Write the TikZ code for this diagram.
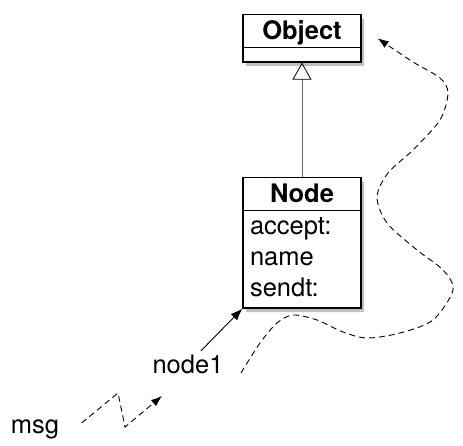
\documentclass[tikz,border=0pt]{standalone}
\usepackage{fontspec}
\setmainfont{TeX Gyre Heros}
\usetikzlibrary{arrows.meta,shapes.multipart,shadows,positioning}
\newcommand{\titlestrut}{\rule[-6pt]{0pt}{29pt}}

\begin{document}
\begin{tikzpicture}[x=1pt,y=-1pt,
  every node/.style={font=\fontsize{25.5}{31}\selectfont},
  umlclass/.style={rectangle split, rectangle split parts=2, draw, line width=1.2pt,
    fill=white, minimum width=118pt, inner xsep=7pt, inner ysep=1.5pt,
    rectangle split part align={center,left},
    rectangle split empty part height=10pt, rectangle split empty part depth=0pt,
    drop shadow={opacity=0.5, shadow xshift=3pt, shadow yshift=-4pt}, anchor=north},
  msgline/.style={dash pattern=on 6pt off 4pt, line width=0.9pt, -{Latex[length=11pt,width=8pt]}}]
\useasboundingbox (0,0) rectangle (463,446);
\node[umlclass] (objcls) at (302,14) {\textbf{\titlestrut Object}\nodepart{two}};
\node[umlclass] (nodecls) at (302,177) {\textbf{\titlestrut Node}
  \nodepart{two}\begin{tabular}{@{}l@{}}accept:\\name\\sendt:\end{tabular}};
\node (node1) at (188,364) {node1};
\node (msg) at (35,429) {msg};
\draw[black!60, line width=0.8pt, -{Triangle[open,length=17pt,width=19pt,black]}] (nodecls.north) -- (objcls.south);
\draw[line width=0.9pt, -{Latex[length=12pt,width=9pt]}] (node1) -- (nodecls.south west);
\draw[msgline] ([xshift=19pt,yshift=6pt]msg.east) -- (118,393) -- (125,427)
  -- ([xshift=-26pt,yshift=-19pt]node1.south);
\draw[msgline] plot[smooth] coordinates {
([xshift=14pt,yshift=-9pt]node1.east) (260,343) (277,323) (293,315)
(317,320) (343,332) (367,338) (400,333) (433,320) (453,290)
(443,270) (417,250) (387,223) (377,197) (388,173) (413,150)
(440,120) (448,93) (440,78) (413,62) ([xshift=16pt,yshift=0pt]objcls.east)
};
\end{tikzpicture}
\end{document}
